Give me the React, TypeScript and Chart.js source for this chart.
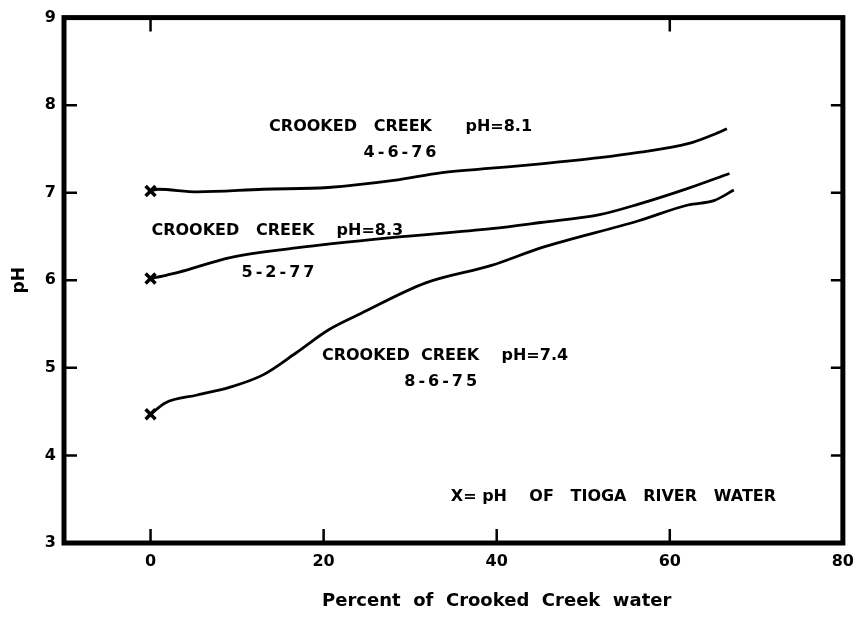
import React, { useEffect, useRef } from "react";
import { Chart, registerables } from "chart.js";

Chart.register(...registerables);

// Percent of Crooked Creek water vs pH, three sampling dates
const percentApr76 = [0, 0.9, 5.4, 13.0, 20.5, 28.1, 33.7, 39.4, 45.1, 51.9, 56.4, 62.1, 64.7, 66.6];
const phApr76 = [7.02, 7.04, 7.01, 7.04, 7.06, 7.14, 7.23, 7.28, 7.33, 7.40, 7.46, 7.56, 7.65, 7.73];

const percentMay77 = [0, 1.9, 3.2, 9.2, 16.8, 28.1, 39.4, 45.1, 51.9, 56.4, 62.1, 66.9];
const phMay77 = [6.02, 6.06, 6.09, 6.26, 6.37, 6.49, 6.59, 6.66, 6.75, 6.87, 7.05, 7.22];

const percentAug75 = [0, 1.7, 5.4, 9.2, 13.0, 16.8, 20.5, 24.3, 31.8, 39.4, 45.1, 56.4, 62.1, 65.1, 67.4];
const phAug75 = [4.47, 4.6, 4.69, 4.78, 4.92, 5.17, 5.43, 5.62, 5.97, 6.17, 6.37, 6.68, 6.86, 6.91, 7.03];

// Tioga River water pH (X markers)
const tiogaPercent = [0, 0, 0];
const tiogaPH = [7.02, 6.02, 4.47];

// Axis ticks
const xTickValues = [0, 20, 40, 60, 80];
const yTickValues = [3, 4, 5, 6, 7, 8, 9];
const xTopTicks = [0, 60];
const xBottomTicks = [0, 20, 40, 60];
const ySideTicks = [4, 5, 6, 7, 8];

// Text notes inside the plot (data coordinates)
const noteText = [
  "CROOKED   CREEK      pH=8.1",
  "4-6-76",
  "CROOKED   CREEK    pH=8.3",
  "5-2-77",
  "CROOKED  CREEK    pH=7.4",
  "8-6-75",
  "X= pH    OF   TIOGA   RIVER   WATER",
];
const noteX = [13.7, 29.0, 0.1, 14.9, 19.8, 33.7, 34.7];
const noteY = [7.75, 7.46, 6.57, 6.08, 5.14, 4.84, 3.53];
const noteAlign = ["left", "center", "left", "center", "left", "center", "left"];
const noteSpacing = [0, 3, 0, 3, 0, 3, 0];

const xTitle = "Percent  of  Crooked  Creek  water";
const yTitle = "pH";

const FAMILY = "'DejaVu Sans', 'Liberation Sans', Arial, sans-serif";

function toPoints(xs: number[], ys: number[]) {
  return xs.map((x, i) => ({ x, y: ys[i] }));
}

const framePlugin = {
  id: "framePlugin",
  afterDraw(chart: any) {
    const { ctx, chartArea, scales } = chart;
    const xs = scales.x;
    const ys = scales.y;
    ctx.save();
    ctx.strokeStyle = "#000";
    ctx.lineWidth = 5;
    ctx.lineJoin = "miter";
    ctx.strokeRect(chartArea.left, chartArea.top, chartArea.right - chartArea.left, chartArea.bottom - chartArea.top);
    ctx.lineWidth = 2.5;
    ctx.beginPath();
    xBottomTicks.forEach((v) => {
      const p = xs.getPixelForValue(v);
      ctx.moveTo(p, chartArea.bottom);
      ctx.lineTo(p, chartArea.bottom - 14);
    });
    xTopTicks.forEach((v) => {
      const p = xs.getPixelForValue(v);
      ctx.moveTo(p, chartArea.top);
      ctx.lineTo(p, chartArea.top + 14);
    });
    ySideTicks.forEach((v) => {
      const p = ys.getPixelForValue(v);
      ctx.moveTo(chartArea.left, p);
      ctx.lineTo(chartArea.left + 13, p);
      ctx.moveTo(chartArea.right, p);
      ctx.lineTo(chartArea.right - 12, p);
    });
    ctx.stroke();

    ctx.fillStyle = "#000";
    ctx.font = `bold 16px ${FAMILY}`;
    ctx.textBaseline = "middle";
    noteText.forEach((t, i) => {
      ctx.textAlign = noteAlign[i] as CanvasTextAlign;
      (ctx as any).letterSpacing = `${noteSpacing[i]}px`;
      ctx.fillText(t, xs.getPixelForValue(noteX[i]), ys.getPixelForValue(noteY[i]));
    });
    (ctx as any).letterSpacing = "0px";

    ctx.font = `bold 18px ${FAMILY}`;
    ctx.textAlign = "center";
    ctx.fillText(xTitle, xs.getPixelForValue(40), chartArea.bottom + 58);

    ctx.save();
    ctx.translate(20, (chartArea.top + chartArea.bottom) / 2);
    ctx.rotate(-Math.PI / 2);
    ctx.font = `bold 17px ${FAMILY}`;
    ctx.fillText(yTitle, 0, 0);
    ctx.restore();
    ctx.restore();
  },
};

export default function App() {
  const canvasRef = useRef<HTMLCanvasElement | null>(null);

  useEffect(() => {
    if (!canvasRef.current) return;
    const lineStyle = {
      borderColor: "#000",
      borderWidth: 2.8,
      pointRadius: 0,
      showLine: true,
      fill: false,
      cubicInterpolationMode: "monotone" as const,
    };
    const chart = new Chart(canvasRef.current, {
      type: "scatter",
      data: {
        datasets: [
          { label: "4-6-76", data: toPoints(percentApr76, phApr76), ...lineStyle },
          { label: "5-2-77", data: toPoints(percentMay77, phMay77), ...lineStyle },
          { label: "8-6-75", data: toPoints(percentAug75, phAug75), ...lineStyle },
          {
            label: "Tioga River",
            data: toPoints(tiogaPercent, tiogaPH),
            showLine: false,
            pointStyle: "crossRot",
            pointRadius: 7,
            borderColor: "#000",
            borderWidth: 3.5,
          },
        ],
      },
      options: {
        animation: false,
        responsive: false,
        layout: { padding: { top: 17, right: 7, left: 0, bottom: 0 } },
        plugins: { legend: { display: false }, tooltip: { enabled: false } },
        scales: {
          x: {
            type: "linear",
            min: -10,
            max: 80,
            afterBuildTicks: (s: any) => {
              s.ticks = xTickValues.map((v) => ({ value: v }));
            },
            afterFit: (s: any) => {
              s.height = 79;
            },
            grid: { display: false, drawTicks: false },
            border: { display: false },
            ticks: {
              color: "#000",
              padding: 9,
              maxRotation: 0,
              autoSkip: false,
              font: { family: FAMILY, size: 16, weight: "bold" },
            },
          },
          y: {
            type: "linear",
            min: 3,
            max: 9,
            afterBuildTicks: (s: any) => {
              s.ticks = yTickValues.map((v) => ({ value: v }));
            },
            afterFit: (s: any) => {
              s.width = 64;
            },
            grid: { display: false, drawTicks: false },
            border: { display: false },
            ticks: {
              color: "#000",
              padding: 8,
              autoSkip: false,
              font: { family: FAMILY, size: 16, weight: "bold" },
            },
          },
        },
      },
      plugins: [framePlugin],
    });
    return () => chart.destroy();
  }, []);

  return (
    <div style={{ position: "absolute", left: 0, top: 0, width: 863, height: 622, background: "#fff" }}>
      <canvas ref={canvasRef} width={863} height={622} />
    </div>
  );
}
